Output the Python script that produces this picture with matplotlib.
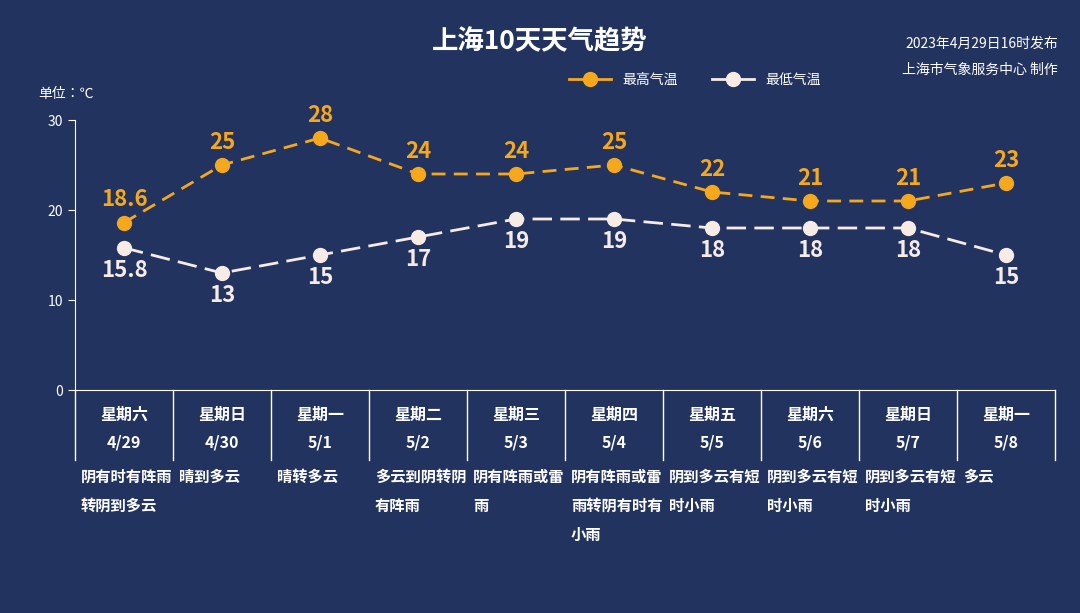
import matplotlib.pyplot as plt
import matplotlib.lines as mlines
from matplotlib import font_manager

cjk = [f.name for f in font_manager.fontManager.ttflist if 'CJK' in f.name]
plt.rcParams['font.family'] = 'sans-serif'
plt.rcParams['font.sans-serif'] = (['Noto Sans CJK SC'] + sorted(set(cjk)) + ['DejaVu Sans'])

weekdays = ['星期六', '星期日', '星期一', '星期二', '星期三', '星期四', '星期五', '星期六', '星期日', '星期一']
dates = ['4/29', '4/30', '5/1', '5/2', '5/3', '5/4', '5/5', '5/6', '5/7', '5/8']
weather = ['阴有时有阵雨转阴到多云', '晴到多云', '晴转多云', '多云到阴转阴有阵雨', '阴有阵雨或雷雨',
           '阴有阵雨或雷雨转阴有时有小雨', '阴到多云有短时小雨', '阴到多云有短时小雨', '阴到多云有短时小雨', '多云']
t_max = [18.6, 25, 28, 24, 24, 25, 22, 21, 21, 23]
t_min = [15.8, 13, 15, 17, 19, 19, 18, 18, 18, 15]

bg = '#22335f'
orange = '#f5a81c'
light = '#f7ebe6'

fig = plt.figure(figsize=(10.8, 6.13), dpi=100, facecolor=bg)
ax = fig.add_axes([75 / 1080, (613 - 390) / 613, 980 / 1080, 270 / 613])
ax.set_facecolor(bg)
n = len(dates)
x = list(range(n))
ax.set_xlim(-0.5, n - 0.5)
ax.set_ylim(0, 30)
ax.set_yticks([0, 10, 20, 30])
ax.tick_params(axis='y', colors='white', labelsize=10, length=5)
ax.set_xticks([])
for s in ['top', 'right']:
    ax.spines[s].set_visible(False)
for s in ['left', 'bottom']:
    ax.spines[s].set_color('white')

ax.plot(x, t_max, color=orange, lw=2, ls=(0, (5, 3)), marker='o', ms=10, zorder=3)
ax.plot(x, t_min, color=light, lw=2, ls=(0, (7, 3)), marker='o', ms=10, zorder=3)
for i in x:
    ax.annotate(f'{t_max[i]:g}', (i, t_max[i]), xytext=(0, 8), textcoords='offset points',
                ha='center', va='bottom', color=orange, fontsize=16, fontweight='bold')
    ax.annotate(f'{t_min[i]:g}', (i, t_min[i]), xytext=(0, -8), textcoords='offset points',
                ha='center', va='top', color=light, fontsize=16, fontweight='bold')

# table below the axis
trans = ax.get_xaxis_transform()
for b in range(n + 1):
    ax.plot([b - 0.5, b - 0.5], [0, -70 / 270], transform=trans, color='white', lw=1, clip_on=False)
for i in x:
    ax.text(i, -25 / 270, weekdays[i], transform=trans, ha='center', va='center',
            color='white', fontsize=11.5, fontweight='bold')
    ax.text(i, -53 / 270, dates[i], transform=trans, ha='center', va='center',
            color='white', fontsize=11.5, fontweight='bold')
    w = weather[i]
    lines = [w[k:k + 6] for k in range(0, len(w), 6)]
    for j, ln in enumerate(lines):
        ax.text(i - 0.44, -(87 + 29 * j) / 270, ln, transform=trans, ha='left', va='center',
                color='white', fontsize=11, fontweight='bold')

fig.text(0.5, 1 - 42 / 613, '上海10天天气趋势', ha='center', va='center', color='white',
         fontsize=19, fontweight='bold')
fig.text(1058 / 1080, 1 - 44 / 613, '2023年4月29日16时发布', ha='right', va='center', color='white', fontsize=10)
fig.text(1058 / 1080, 1 - 70 / 613, '上海市气象服务中心 制作', ha='right', va='center', color='white', fontsize=10)
fig.text(38 / 1080, 1 - 94 / 613, '单位：℃', ha='left', va='center', color='white', fontsize=10)

h1 = mlines.Line2D([], [], color=orange, lw=2, marker='o', ms=10, label='最高气温')
h2 = mlines.Line2D([], [], color=light, lw=2, marker='o', ms=10, label='最低气温')
fig.legend(handles=[h1, h2], loc='center', bbox_to_anchor=(695 / 1080, 1 - 80 / 613), ncol=2,
           frameon=False, fontsize=10, labelcolor='white', handlelength=3, columnspacing=2.5)

fig.savefig('out.png', dpi=100, facecolor=bg)
